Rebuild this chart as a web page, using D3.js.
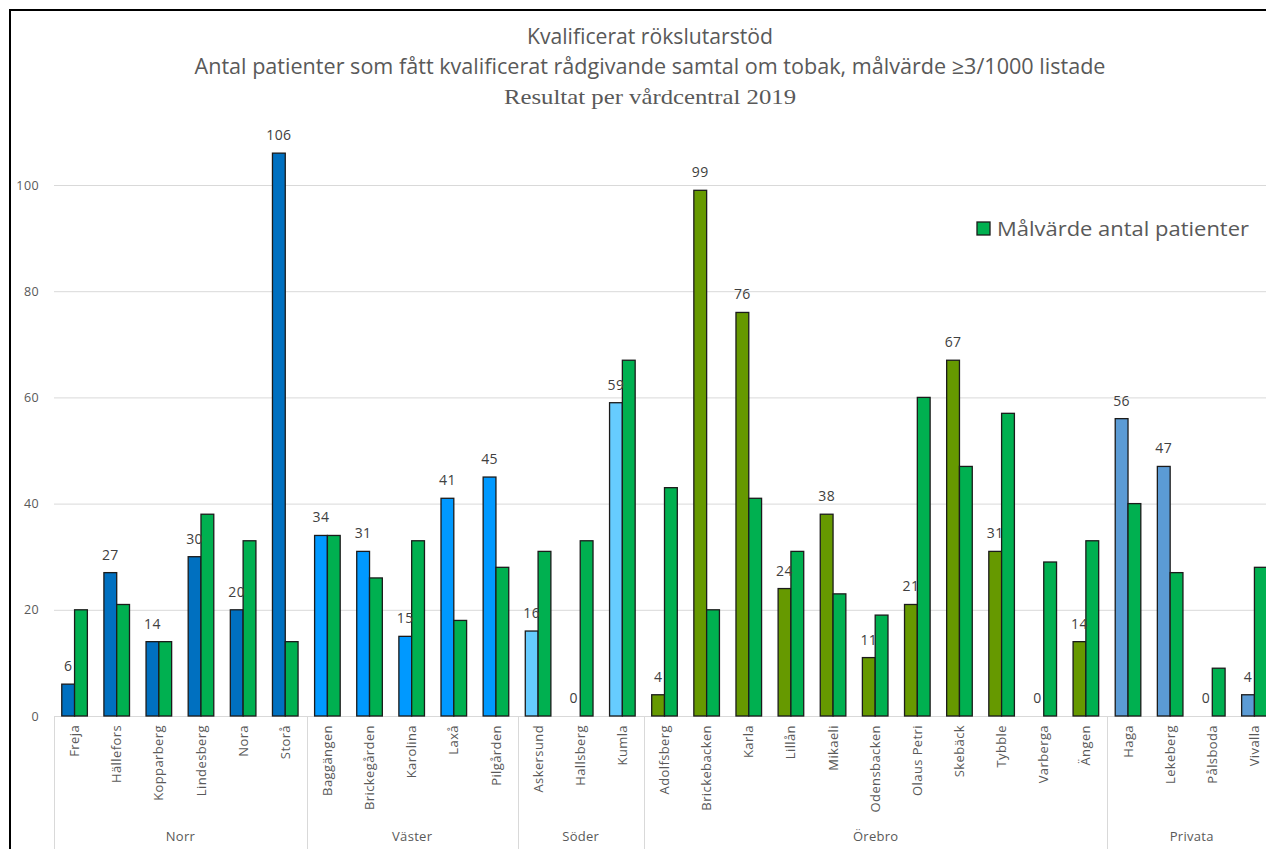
<!DOCTYPE html>
<html>
<head>
<meta charset="utf-8">
<script src="https://cdn.jsdelivr.net/npm/d3@7"></script>
<style>
  html, body { margin: 0; padding: 0; background: #ffffff; }
  svg { display: block; }
</style>
</head>
<body>
<svg id="chart" width="1266" height="849"></svg>
<script>
// Regions and how many health centres each one has, in axis order
const groupNames = ["Norr", "Väster", "Söder", "Örebro", "Privata"];
const groupSizes = [6, 5, 3, 11, 4];

// Health centres (vårdcentraler)
const centres = [
  "Freja", "Hällefors", "Kopparberg", "Lindesberg", "Nora", "Storå",
  "Baggängen", "Brickegården", "Karolina", "Laxå", "Pilgården",
  "Askersund", "Hallsberg", "Kumla",
  "Adolfsberg", "Brickebacken", "Karla", "Lillån", "Mikaeli", "Odensbacken",
  "Olaus Petri", "Skebäck", "Tybble", "Varberga", "Ängen",
  "Haga", "Lekeberg", "Pålsboda", "Vivalla"
];

// Patients who received a qualified tobacco counselling session, 2019
const outcome = [
  6, 27, 14, 30, 20, 106,
  34, 31, 15, 41, 45,
  16, 0, 59,
  4, 99, 76, 24, 38, 11, 21, 67, 31, 0, 14,
  56, 47, 0, 4
];

// Target number of patients (3 per 1000 listed)
const target = [
  20, 21, 14, 38, 33, 14,
  34, 26, 33, 18, 28,
  31, 33, 67,
  43, 20, 41, 31, 23, 19, 60, 47, 57, 29, 33,
  40, 27, 9, 28
];

const yTicks = [0, 20, 40, 60, 80, 100];
const legendLabel = "Målvärde antal patienter";
const titleLines = [
  "Kvalificerat rökslutarstöd",
  "Antal patienter som fått kvalificerat rådgivande samtal om tobak, målvärde \u22653/1000 listade",
  "Resultat per vårdcentral 2019"
];

// Fill colour of the outcome bars for each region
const regionColours = {
  "Norr": "#0070C0",
  "Väster": "#0099FF",
  "Söder": "#66CCFF",
  "Örebro": "#669900",
  "Privata": "#5B9BD5"
};
const targetColour = "#00B050";

// Region of every centre, derived from the group sizes
const regionOf = [];
groupNames.forEach((g, i) => { for (let k = 0; k < groupSizes[i]; k++) regionOf.push(g); });

const svg = d3.select("#chart");

// Plot area
const plotLeft = 54, plotRight = 1276;
const y0 = 716, y100 = 185;

const x = d3.scaleBand()
  .domain(centres)
  .range([plotLeft, plotRight])
  .paddingInner(0)
  .paddingOuter(0);

const barW = 12.8;
const xSub = d3.scaleBand()
  .domain(["outcome", "target"])
  .range([(x.bandwidth() - 2 * barW) / 2 - 0.5, (x.bandwidth() + 2 * barW) / 2 - 0.5]);

const y = d3.scaleLinear()
  .domain([0, 100])
  .range([y0, y100]);

// Frame around the picture
svg.append("line").attr("x1", 9).attr("x2", 1266).attr("y1", 10).attr("y2", 10)
  .attr("stroke", "#000").attr("stroke-width", 2);
svg.append("line").attr("x1", 10).attr("x2", 10).attr("y1", 9).attr("y2", 849)
  .attr("stroke", "#000").attr("stroke-width", 2);

// Titles
const titleY = [37, 67, 97];
const titleWidths = [246, 911, 292];
titleLines.forEach((t, i) => {
  svg.append("text")
    .attr("x", 650)
    .attr("y", titleY[i])
    .attr("dy", "0.35em")
    .attr("text-anchor", "middle")
    .attr("font-family", i === 2 ? "'Liberation Serif', 'DejaVu Serif', serif" : "'Liberation Sans Narrow', 'Open Sans', sans-serif")
    .attr("font-size", 21)
    .attr("fill", "#595959")
    .attr("textLength", titleWidths[i])
    .attr("lengthAdjust", "spacingAndGlyphs")
    .text(t);
});

// Horizontal gridlines and value axis labels
const yAxis = d3.axisLeft(y).tickValues(yTicks).tickSize(-(plotRight - plotLeft)).tickPadding(15);
const gy = svg.append("g").attr("transform", `translate(${plotLeft},0)`).call(yAxis);
gy.select(".domain").remove();
gy.selectAll(".tick line").attr("stroke", "#d9d9d9").attr("stroke-width", 1);
gy.selectAll(".tick text")
  .attr("font-family", "'Open Sans', 'DejaVu Sans', sans-serif")
  .attr("font-size", 12.5)
  .attr("letter-spacing", 0.4)
  .attr("fill", "#595959");

// Category axis line
svg.append("line")
  .attr("x1", plotLeft).attr("x2", plotRight)
  .attr("y1", y0 + 0.5).attr("y2", y0 + 0.5)
  .attr("stroke", "#d9d9d9").attr("stroke-width", 1);

// Bars
const bars = svg.append("g");
centres.forEach((c, i) => {
  bars.append("rect")
    .attr("x", x(c) + xSub("outcome"))
    .attr("y", y(outcome[i]))
    .attr("width", xSub.bandwidth())
    .attr("height", y0 - y(outcome[i]))
    .attr("fill", regionColours[regionOf[i]])
    .attr("stroke", outcome[i] > 0 ? "#1b1b1b" : "none")
    .attr("stroke-width", 1.3);
  bars.append("rect")
    .attr("x", x(c) + xSub("target"))
    .attr("y", y(target[i]))
    .attr("width", xSub.bandwidth())
    .attr("height", y0 - y(target[i]))
    .attr("fill", targetColour)
    .attr("stroke", "#1b1b1b")
    .attr("stroke-width", 1.3);
});

// Value labels above the outcome bars
const labels = svg.append("g");
centres.forEach((c, i) => {
  labels.append("text")
    .attr("x", x(c) + xSub("outcome") + xSub.bandwidth() / 2)
    .attr("y", y(outcome[i]) - 13)
    .attr("text-anchor", "middle")
    .attr("font-family", "'Open Sans', 'DejaVu Sans', sans-serif")
    .attr("font-size", 14)
    .attr("letter-spacing", 0.4)
    .attr("fill", "#404040")
    .text(outcome[i]);
});

// Centre names, rotated
const catLabels = svg.append("g");
centres.forEach((c) => {
  const cx = x(c) + x.bandwidth() / 2 - 0.5;
  catLabels.append("text")
    .attr("transform", `translate(${cx},${y0 + 9}) rotate(-90)`)
    .attr("dy", "0.35em")
    .attr("text-anchor", "end")
    .attr("font-family", "'Open Sans', 'DejaVu Sans', sans-serif")
    .attr("font-size", 13)
    .attr("letter-spacing", 0.4)
    .attr("fill", "#595959")
    .text(c);
});

// Region separators and names
let start = 0;
const sep = svg.append("g");
const boundaries = [plotLeft];
groupNames.forEach((g, gi) => {
  const first = centres[start];
  const last = centres[start + groupSizes[gi] - 1];
  const gx0 = x(first);
  const gx1 = x(last) + x.bandwidth();
  boundaries.push(gx1);
  sep.append("text")
    .attr("x", (gx0 + gx1) / 2)
    .attr("y", 836)
    .attr("dy", "0.35em")
    .attr("text-anchor", "middle")
    .attr("font-family", "'Open Sans', 'DejaVu Sans', sans-serif")
    .attr("font-size", 13)
    .attr("letter-spacing", 0.3)
    .attr("fill", "#595959")
    .text(g);
  start += groupSizes[gi];
});
boundaries.forEach((bx) => {
  sep.append("line")
    .attr("x1", Math.round(bx) + 0.5).attr("x2", Math.round(bx) + 0.5)
    .attr("y1", y0).attr("y2", 849)
    .attr("stroke", "#d9d9d9").attr("stroke-width", 1);
});

// Legend
const legend = svg.append("g").attr("transform", "translate(977,222)");
legend.append("rect")
  .attr("width", 13).attr("height", 13)
  .attr("fill", targetColour)
  .attr("stroke", "#1b1b1b").attr("stroke-width", 1.3);
legend.append("text")
  .attr("x", 20).attr("y", 6.5)
  .attr("dy", "0.35em")
  .attr("font-family", "'Open Sans', 'DejaVu Sans', sans-serif")
  .attr("font-size", 20)
  .attr("fill", "#595959")
  .attr("textLength", 252)
  .attr("lengthAdjust", "spacingAndGlyphs")
  .text(legendLabel);
</script>
</body>
</html>
